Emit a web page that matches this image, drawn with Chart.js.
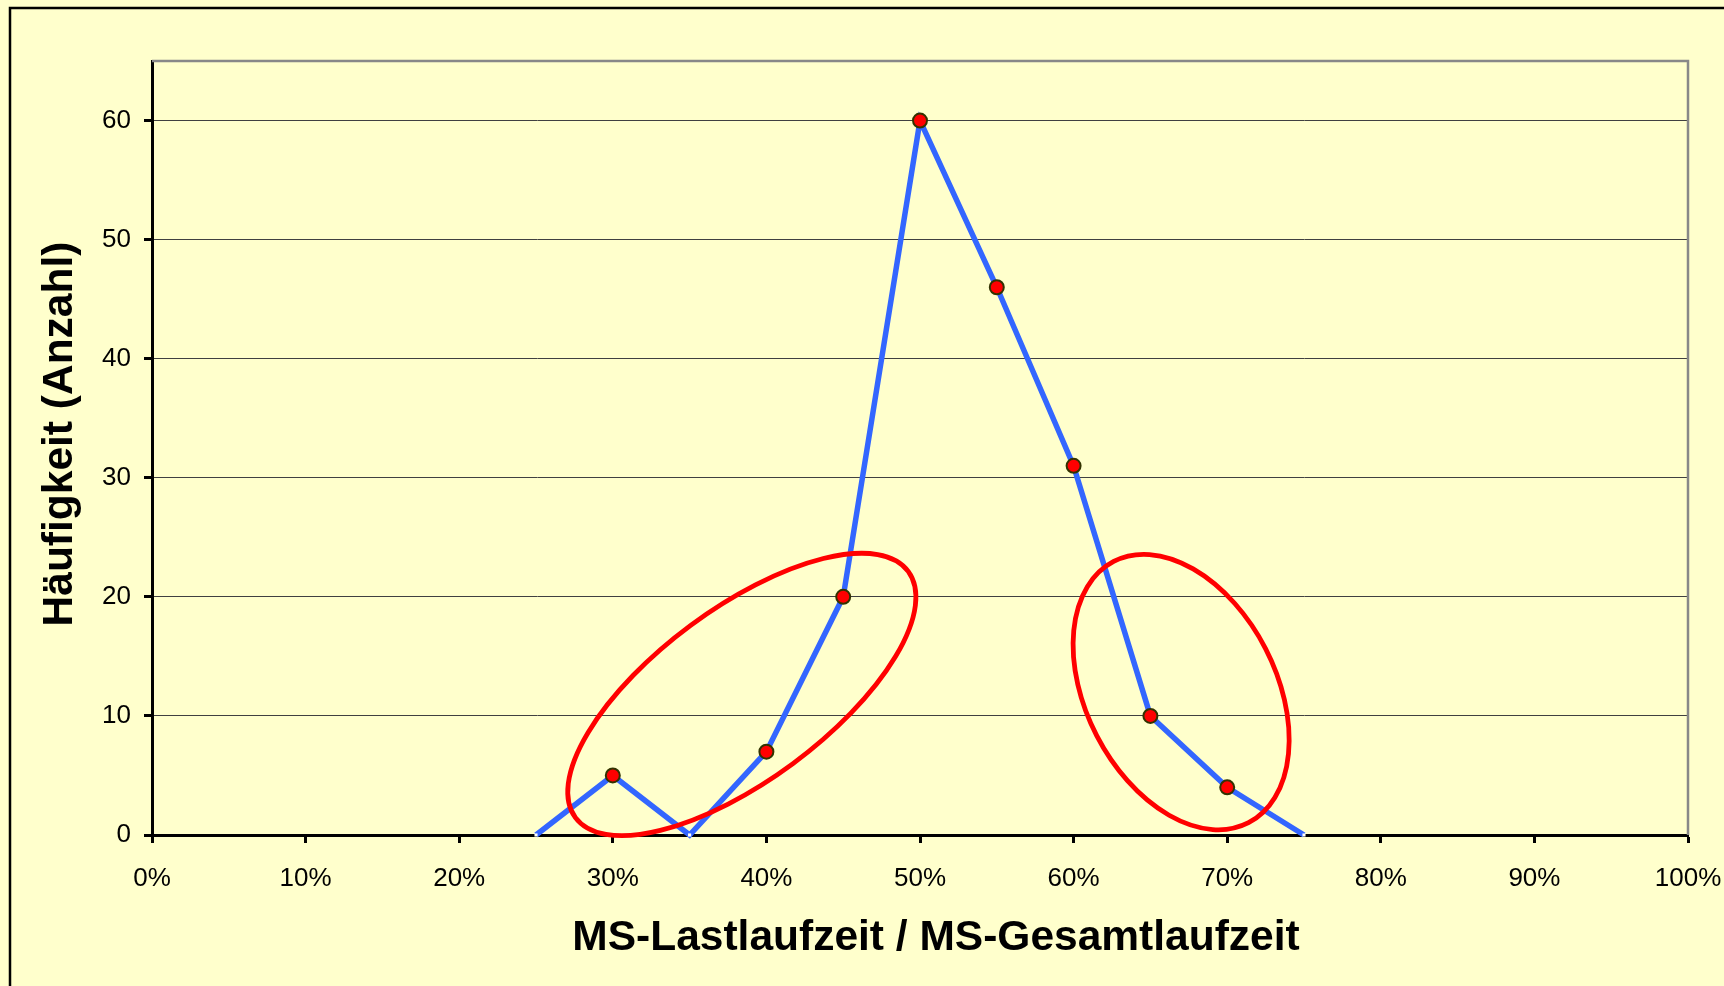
<!DOCTYPE html>
<html>
<head>
<meta charset="utf-8">
<script src="https://cdn.jsdelivr.net/npm/chart.js@4/dist/chart.umd.min.js"></script>
<style>
    html, body {
        margin: 0;
        padding: 0;
        background: #ffffcc;
    }
    .chart-box {
        width: 1724px;
        height: 986px;
    }
</style>
</head>
<body>
<div class="chart-box"><canvas id="myChart"></canvas></div>
<script>
// share of load runtime in total runtime (fraction) and how often it occurs
const ratios = [0.25, 0.30, 0.35, 0.40, 0.45, 0.50, 0.55, 0.60, 0.65, 0.70, 0.75];
const counts = [0, 5, 0, 7, 20, 60, 46, 31, 10, 4, 0];
const xTickLabels = ["0%", "10%", "20%", "30%", "40%", "50%", "60%", "70%", "80%", "90%", "100%"];
const yTickLabels = ["0", "10", "20", "30", "40", "50", "60"];
const xTitle = "MS-Lastlaufzeit / MS-Gesamtlaufzeit";
const yTitle = "Häufigkeit (Anzahl)";

// red marks round the flanks (centre in data units, radii in px)
const highlights = [
    { x: 0.384, y: 11.8, rx: 207, ry: 86, angle: -36.5 },
    { x: 0.670, y: 12.0, rx: 147, ry: 95, angle: 62.7 },
];

const fontFamily = "'Liberation Sans', Arial, sans-serif";

const frame = {
    id: "frame",
    beforeDraw(chart) {
        const ctx = chart.ctx;
        ctx.save();
        ctx.fillStyle = "#ffffcc";
        ctx.fillRect(0, 0, chart.width, chart.height);
        ctx.strokeStyle = "#000";
        ctx.lineWidth = 2.5;
        ctx.strokeRect(10, 8, chart.width + 20, chart.height + 20);
        ctx.restore();
    },
    beforeDatasetsDraw(chart) {
        const { ctx, chartArea } = chart;
        ctx.save();
        ctx.strokeStyle = "#888";
        ctx.lineWidth = 2.5;
        ctx.beginPath();
        ctx.moveTo(chartArea.left, chartArea.top);
        ctx.lineTo(chartArea.right, chartArea.top);
        ctx.lineTo(chartArea.right, chartArea.bottom);
        ctx.stroke();
        ctx.restore();
    },
    afterDatasetsDraw(chart) {
        const ctx = chart.ctx;
        const xs = chart.scales.x;
        const ys = chart.scales.y;
        ctx.save();
        ctx.strokeStyle = "#ff0000";
        ctx.lineWidth = 4.8;
        highlights.forEach((h) => {
            ctx.beginPath();
            ctx.ellipse(
                xs.getPixelForValue(h.x),
                ys.getPixelForValue(h.y),
                h.rx,
                h.ry,
                (h.angle * Math.PI) / 180,
                0,
                Math.PI * 2
            );
            ctx.stroke();
        });
        ctx.restore();
    },
    afterDraw(chart) {
        // axis titles, placed like the original (not centred on the plot area)
        const { ctx, chartArea } = chart;
        ctx.save();
        ctx.fillStyle = "#000";
        ctx.font = "bold 42.5px " + fontFamily;
        ctx.textAlign = "center";
        ctx.textBaseline = "alphabetic";
        ctx.fillText(xTitle, chartArea.left + 784, 950);
        ctx.translate(72, chartArea.top + 373);
        ctx.rotate(-Math.PI / 2);
        ctx.fillText(yTitle, 0, 0);
        ctx.restore();
    },
};

const data = {
    datasets: [
        {
            label: "Häufigkeit",
            data: ratios.map((r, i) => ({ x: r, y: counts[i] })),
            borderColor: "#3366ff",
            borderWidth: 5.5,
            tension: 0,
            pointStyle: (c) => (c.raw && c.raw.y === 0 ? "rect" : "circle"),
            pointRadius: (c) => (c.raw && c.raw.y === 0 ? 2.2 : 7),
            pointBackgroundColor: (c) => (c.raw && c.raw.y === 0 ? "#ffffff" : "#ff0000"),
            pointBorderColor: "#333300",
            pointBorderWidth: (c) => (c.raw && c.raw.y === 0 ? 0 : 2),
            clip: false,
        },
    ],
};

const config = {
    type: "line",
    data: data,
    options: {
        responsive: true,
        maintainAspectRatio: false,
        animation: false,
        layout: {
            padding: { left: 0, top: 61, right: 36, bottom: 0 },
        },
        scales: {
            x: {
                type: "linear",
                min: 0,
                max: 1,
                afterFit: (scale) => {
                    scale.height = 151;
                    scale.paddingLeft = 0;
                    scale.paddingRight = 0;
                },
                border: { display: true, color: "#000", width: 3 },
                grid: {
                    drawOnChartArea: false,
                    drawTicks: true,
                    tickLength: 8,
                    tickColor: "#000",
                    tickWidth: 3,
                },
                ticks: {
                    stepSize: 0.1,
                    padding: 20,
                    color: "#000",
                    maxRotation: 0,
                    font: { family: fontFamily, size: 26 },
                    callback: (v) => xTickLabels[Math.round(v * 10)],
                },
            },
            y: {
                min: 0,
                max: 65,
                afterFit: (scale) => {
                    scale.width = 152;
                },
                border: { display: true, color: "#000", width: 3 },
                grid: {
                    color: "#404040",
                    lineWidth: 1,
                    drawTicks: true,
                    tickLength: 8,
                    tickColor: "#000",
                    tickWidth: 3,
                },
                ticks: {
                    stepSize: 10,
                    includeBounds: false,
                    padding: 13,
                    color: "#000",
                    font: { family: fontFamily, size: 26 },
                    callback: (v) => yTickLabels[Math.round(v / 10)],
                },
            },
        },
        plugins: {
            legend: { display: false },
            tooltip: { enabled: false },
        },
    },
    plugins: [frame],
};

const myChart = new Chart(document.getElementById("myChart").getContext("2d"), config);
</script>
</body>
</html>
